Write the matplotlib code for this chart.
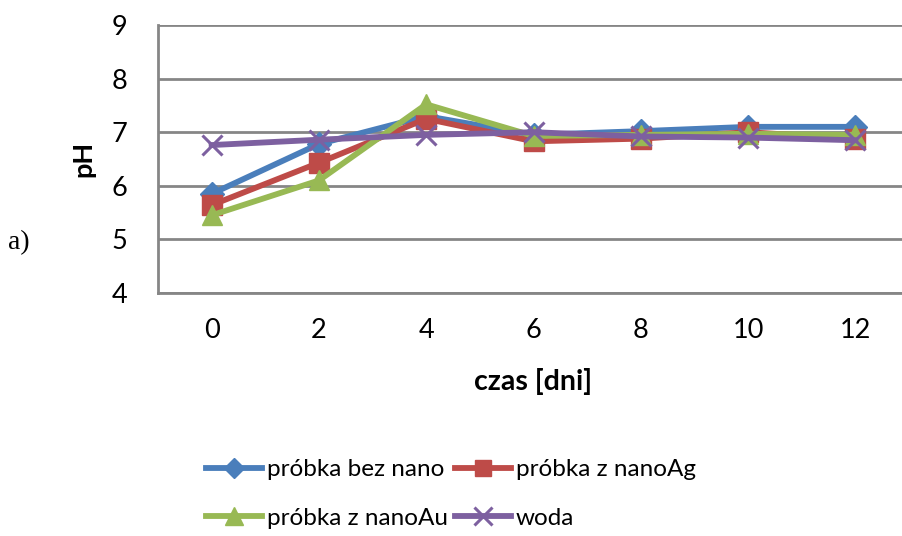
import matplotlib
matplotlib.use("Agg")
import matplotlib.pyplot as plt

# data
days = [0, 2, 4, 6, 8, 10, 12]
ph_bez_nano = [5.85, 6.78, 7.30, 6.95, 7.02, 7.10, 7.10]
ph_nano_ag = [5.64, 6.43, 7.25, 6.83, 6.88, 7.00, 6.88]
ph_nano_au = [5.45, 6.10, 7.52, 6.93, 6.95, 6.97, 6.95]
ph_woda = [6.76, 6.86, 6.95, 7.00, 6.92, 6.90, 6.85]
series_labels = ["próbka bez nano", "próbka z nanoAg", "próbka z nanoAu", "woda"]

BLUE, RED, GREEN, PURPLE = "#4a7ebb", "#be4b48", "#98b954", "#7d60a0"
GRID = "#868686"

plt.rcParams.update({"font.family": ["Lato", "DejaVu Sans"], "font.size": 19.5})

fig = plt.figure(figsize=(9.02, 5.36), dpi=100)
ax = fig.add_axes([158 / 902, 1 - 293 / 536, 751 / 902, 268 / 536])

x = list(range(len(days)))
lw = 4.2
h1, = ax.plot(x, ph_bez_nano, color=BLUE, lw=lw, marker="D", ms=12, label=series_labels[0], zorder=3)
h2, = ax.plot(x, ph_nano_ag, color=RED, lw=lw, marker="s", ms=14, label=series_labels[1], zorder=4)
h3, = ax.plot(x, ph_nano_au, color=GREEN, lw=lw, marker="^", ms=15, label=series_labels[2], zorder=5)
h4, = ax.plot(x, ph_woda, color=PURPLE, lw=lw, marker="x", ms=15, mew=2.2, label=series_labels[3], zorder=6)

ax.set_xlim(-0.5, len(days) - 0.5)
ax.set_ylim(4, 9)
ax.set_xticks(x)
ax.set_xticklabels([str(d) for d in days])
ax.set_yticks(range(4, 10))
ax.yaxis.grid(True, color=GRID, lw=2)
ax.set_axisbelow(True)
for s in ("top", "right"):
    ax.spines[s].set_visible(False)
for s in ("left", "bottom"):
    ax.spines[s].set_color(GRID)
    ax.spines[s].set_linewidth(2)
ax.tick_params(length=0)
ax.tick_params(axis="x", pad=18)
ax.tick_params(axis="y", pad=22)

ax.set_ylabel("pH", fontweight="bold", labelpad=12)
ax.set_xlabel("czas [dni]", fontweight="bold", fontsize=20.5, labelpad=18)

fig.text(8 / 902, 1 - 243 / 536, "a)", family="Liberation Serif", fontsize=20, va="center")

# Excel fills the legend row by row
fig.legend([h1, h3, h2, h4], [series_labels[0], series_labels[2], series_labels[1], series_labels[3]],
           loc="center", bbox_to_anchor=(451 / 902, 1 - 494 / 536), ncol=2,
           frameon=False, handlelength=2.3, handletextpad=0.2, columnspacing=0.3,
           labelspacing=1.15, fontsize=17.5, markerscale=0.85)

fig.savefig("out.png", dpi=100)
